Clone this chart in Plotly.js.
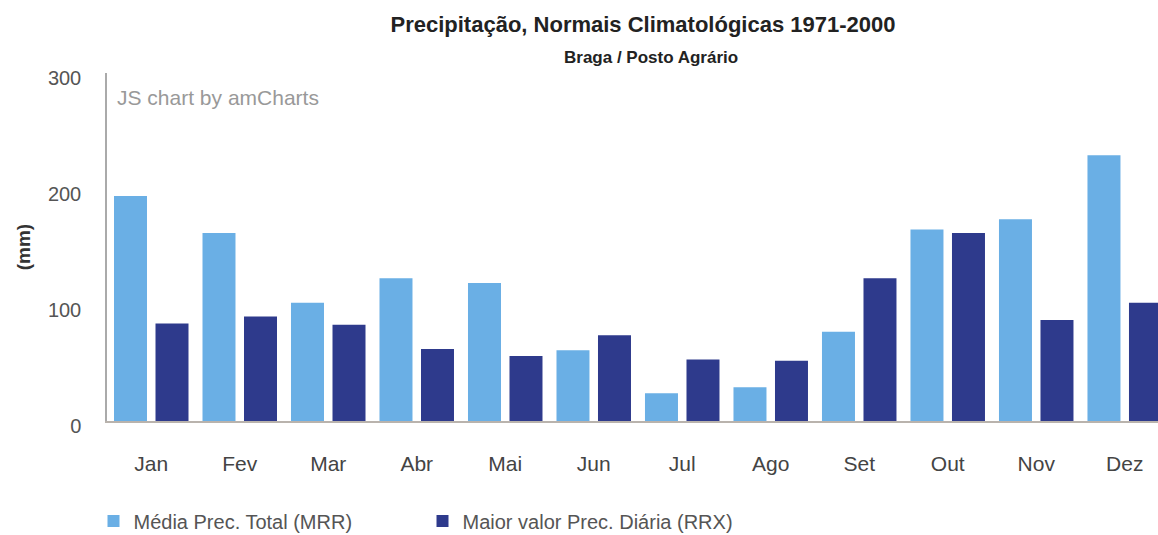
<!DOCTYPE html>
<html>
<head>
<meta charset="utf-8">
<script src="https://cdn.plot.ly/plotly-3.0.1.min.js"></script>
<style>html,body{margin:0;padding:0;background:#fff;}#chart{width:1158px;height:535px;}</style>
</head>
<body>
<div id="chart"></div>
<script>
const months = ["Jan","Fev","Mar","Abr","Mai","Jun","Jul","Ago","Set","Out","Nov","Dez"];
const mrrValues = [194, 162, 102, 123, 119, 61, 24, 29, 77, 165, 174, 229];
const rrxValues = [84, 90, 83, 62, 56, 74, 53, 52, 123, 162, 87, 102];
const seriesNames = ["Média Prec. Total (MRR)", "Maior valor Prec. Diária (RRX)"];
const yTicks = [0, 100, 200, 300];

const FONT = "Liberation Sans, Arial, sans-serif";
const PLOT_TOP = 73, PLOT_BOTTOM = 421, PLOT_H = PLOT_BOTTOM - PLOT_TOP;
const py = px => (PLOT_BOTTOM - px) / PLOT_H;

const traces = [
  {type:"bar", name: seriesNames[0], x: months, y: mrrValues,
   marker:{color:"#6aafe5"}, hoverinfo:"x+y"},
  {type:"bar", name: seriesNames[1], x: months, y: rrxValues,
   marker:{color:"#2e3a8c"}, hoverinfo:"x+y"}
];

const layout = {
  width:1158, height:535,
  margin:{l:107, r:0, t:PLOT_TOP, b:535-PLOT_BOTTOM},
  paper_bgcolor:"#ffffff", plot_bgcolor:"#ffffff",
  font:{family:FONT, color:"#444"},
  barmode:"group", bargap:0.062, bargroupgap:0.205,
  title:{text:"Precipitação, Normais Climatológicas 1971-2000",
         font:{family:FONT, size:22, color:"#222", weight:"bold"},
         x:643/1158, xref:"container", xanchor:"center",
         y:1-24/535, yref:"container", yanchor:"middle"},
  xaxis:{type:"category", range:[-0.5, 11.376], showgrid:false, zeroline:false,
         showline:true, linecolor:"#b9b3ad", linewidth:2, ticks:"",
         tickfont:{family:FONT, size:21, color:"#444"}, ticklabelstandoff:23,
         fixedrange:true},
  yaxis:{range:[0,300], tickvals:yTicks, ticktext:yTicks.map(String),
         showgrid:false, zeroline:false, showline:true, linecolor:"#aaaaaa", linewidth:1.5,
         ticks:"", ticklabelstandoff:20, ticklabelshift:5,
         tickfont:{family:FONT, size:20, color:"#555"},
         title:{text:"(mm)", font:{family:FONT, size:19, color:"#333", weight:"bold"}, standoff:12},
         fixedrange:true},
  showlegend:true,
  legend:{orientation:"h", xref:"container", x:93.5/1158, xanchor:"left",
          yref:"container", y:1-521/535, yanchor:"middle",
          entrywidth:284, entrywidthmode:"pixels",
          font:{family:FONT, size:20, color:"#555"}, bgcolor:"rgba(0,0,0,0)", traceorder:"normal"},
  annotations:[
    {text:"Braga / Posto Agrário", xref:"paper", yref:"paper", x:(651-107)/1051, y:py(57),
     xanchor:"center", yanchor:"middle", showarrow:false,
     font:{family:FONT, size:17, color:"#222", weight:"bold"}},
    {text:"JS chart by amCharts", xref:"paper", yref:"paper", x:(115-107)/1051, y:py(97),
     xanchor:"left", yanchor:"middle", showarrow:false,
     font:{family:FONT, size:21, color:"#999"}}
  ]
};

Plotly.newPlot("chart", traces, layout, {displayModeBar:false});
</script>
</body>
</html>
